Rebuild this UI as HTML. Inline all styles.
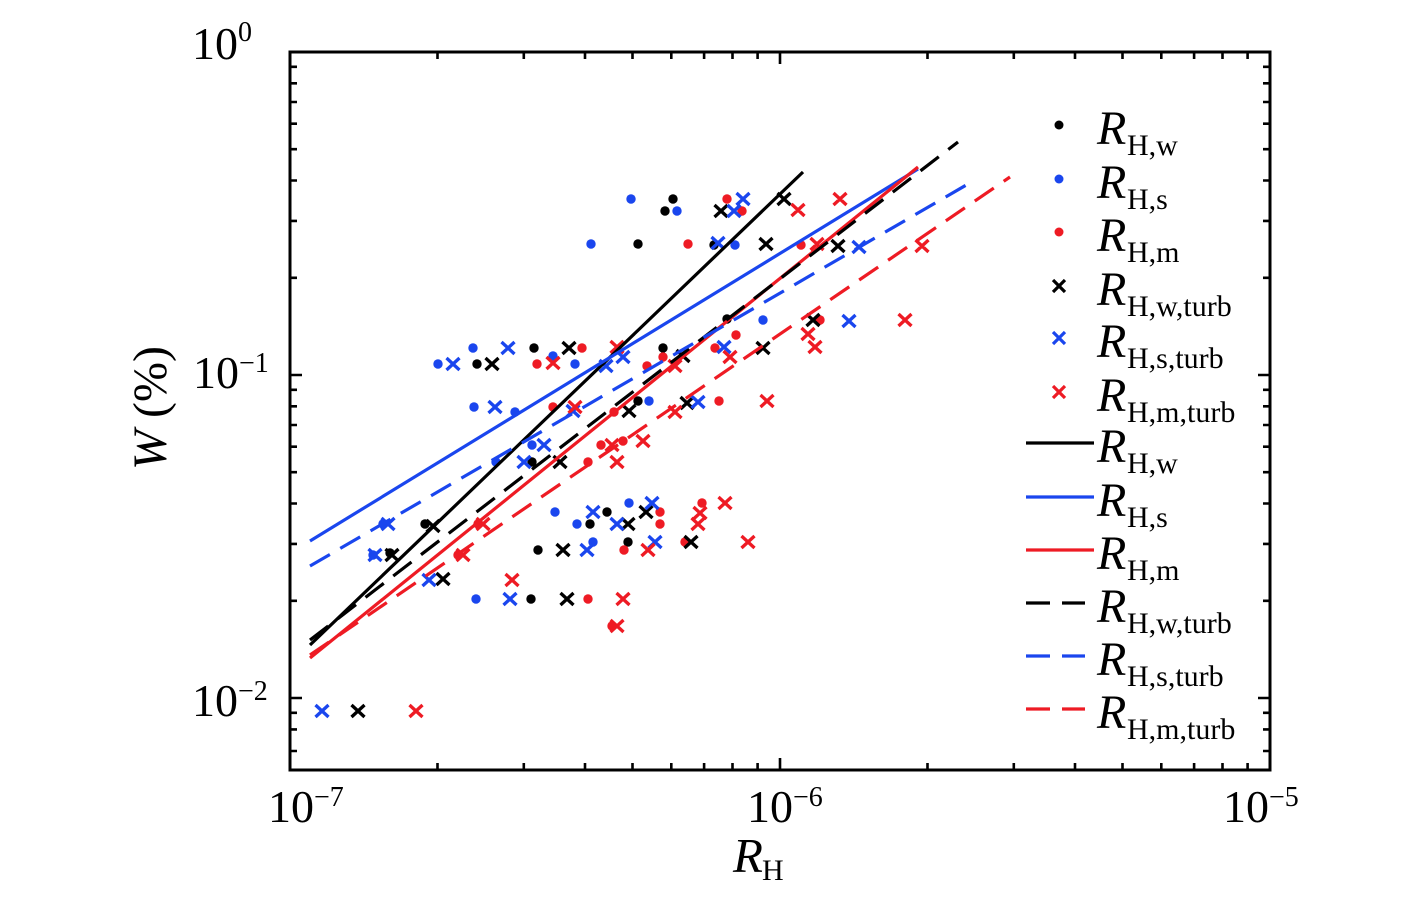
<!DOCTYPE html>
<html><head><meta charset="utf-8"><style>
html,body{margin:0;padding:0;background:#fff;}
svg{display:block;}
text{font-family:"Liberation Serif","DejaVu Serif",serif;fill:#000;}
</style></head><body>
<svg width="1419" height="897" viewBox="0 0 1419 897" xmlns="http://www.w3.org/2000/svg">
<rect x="0" y="0" width="1419" height="897" fill="#fff"/>

<!-- markers -->
<g fill="#000">
<circle cx="673" cy="199" r="4.7"/><circle cx="665" cy="211" r="4.7"/><circle cx="638" cy="244" r="4.7"/><circle cx="714" cy="245" r="4.7"/><circle cx="727" cy="319" r="4.7"/><circle cx="534" cy="348" r="4.7"/><circle cx="663" cy="348" r="4.7"/><circle cx="477" cy="364" r="4.7"/><circle cx="638" cy="401" r="4.7"/><circle cx="532" cy="462" r="4.7"/><circle cx="607" cy="512" r="4.7"/><circle cx="590" cy="524" r="4.7"/><circle cx="538" cy="550" r="4.7"/><circle cx="628" cy="542" r="4.7"/><circle cx="531" cy="599" r="4.7"/><circle cx="425" cy="524" r="4.7"/><circle cx="390" cy="553" r="4.7"/>
</g>
<g fill="#1a46ee">
<circle cx="631" cy="199" r="4.7"/><circle cx="677" cy="211" r="4.7"/><circle cx="591" cy="244" r="4.7"/><circle cx="735" cy="245" r="4.7"/><circle cx="763" cy="320" r="4.7"/><circle cx="473" cy="348" r="4.7"/><circle cx="438" cy="364" r="4.7"/><circle cx="553" cy="356" r="4.7"/><circle cx="575" cy="364" r="4.7"/><circle cx="474" cy="407" r="4.7"/><circle cx="515" cy="412" r="4.7"/><circle cx="649" cy="401" r="4.7"/><circle cx="532" cy="445" r="4.7"/><circle cx="496" cy="462" r="4.7"/><circle cx="555" cy="512" r="4.7"/><circle cx="577" cy="524" r="4.7"/><circle cx="629" cy="503" r="4.7"/><circle cx="593" cy="542" r="4.7"/><circle cx="476" cy="599" r="4.7"/><circle cx="383" cy="524" r="4.7"/><circle cx="373" cy="555" r="4.7"/>
</g>
<g fill="#ee1b24">
<circle cx="727" cy="199" r="4.7"/><circle cx="742" cy="211" r="4.7"/><circle cx="688" cy="244" r="4.7"/><circle cx="801" cy="245" r="4.7"/><circle cx="820" cy="320" r="4.7"/><circle cx="736" cy="335" r="4.7"/><circle cx="582" cy="348" r="4.7"/><circle cx="715" cy="348" r="4.7"/><circle cx="537" cy="364" r="4.7"/><circle cx="663" cy="357" r="4.7"/><circle cx="647" cy="366" r="4.7"/><circle cx="553" cy="407" r="4.7"/><circle cx="614" cy="412" r="4.7"/><circle cx="719" cy="401" r="4.7"/><circle cx="601" cy="445" r="4.7"/><circle cx="623" cy="441" r="4.7"/><circle cx="588" cy="462" r="4.7"/><circle cx="660" cy="512" r="4.7"/><circle cx="660" cy="524" r="4.7"/><circle cx="702" cy="503" r="4.7"/><circle cx="624" cy="550" r="4.7"/><circle cx="685" cy="542" r="4.7"/><circle cx="588" cy="599" r="4.7"/><circle cx="612" cy="626" r="4.7"/><circle cx="478" cy="524" r="4.7"/><circle cx="458" cy="555" r="4.7"/>
</g>
<path fill="none" stroke="#000" stroke-width="3.3" d="M777.5 193l13 12m0-12l-13 12 M714.5 205l13 12m0-12l-13 12 M759.5 238l13 12m0-12l-13 12 M831.5 240l13 12m0-12l-13 12 M806.5 314l13 12m0-12l-13 12 M562.5 342l13 12m0-12l-13 12 M756.5 342l13 12m0-12l-13 12 M485.5 358l13 12m0-12l-13 12 M676.5 350l13 12m0-12l-13 12 M622.5 405l13 12m0-12l-13 12 M680.5 397l13 12m0-12l-13 12 M553.5 456l13 12m0-12l-13 12 M639.5 506l13 12m0-12l-13 12 M621.5 518l13 12m0-12l-13 12 M556.5 544l13 12m0-12l-13 12 M684.5 536l13 12m0-12l-13 12 M560.5 593l13 12m0-12l-13 12 M436.5 573l13 12m0-12l-13 12 M426.5 520l13 12m0-12l-13 12 M385.5 549l13 12m0-12l-13 12 M351.5 705l13 12m0-12l-13 12"/>
<path fill="none" stroke="#1a46ee" stroke-width="3.3" d="M736.5 193l13 12m0-12l-13 12 M727.5 205l13 12m0-12l-13 12 M711.5 237l13 12m0-12l-13 12 M852.5 241l13 12m0-12l-13 12 M842.5 315l13 12m0-12l-13 12 M501.5 342l13 12m0-12l-13 12 M446.5 358l13 12m0-12l-13 12 M616.5 351l13 12m0-12l-13 12 M599.5 360l13 12m0-12l-13 12 M717.5 341l13 12m0-12l-13 12 M488.5 401l13 12m0-12l-13 12 M691.5 396l13 12m0-12l-13 12 M537.5 439l13 12m0-12l-13 12 M517.5 456l13 12m0-12l-13 12 M586.5 506l13 12m0-12l-13 12 M610.5 518l13 12m0-12l-13 12 M645.5 497l13 12m0-12l-13 12 M580.5 544l13 12m0-12l-13 12 M648.5 536l13 12m0-12l-13 12 M503.5 593l13 12m0-12l-13 12 M422.5 574l13 12m0-12l-13 12 M381.5 518l13 12m0-12l-13 12 M368.5 549l13 12m0-12l-13 12 M315.5 705l13 12m0-12l-13 12 M566.5 405l13 12m0-12l-13 12"/>
<path fill="none" stroke="#ee1b24" stroke-width="3.3" d="M833.5 193l13 12m0-12l-13 12 M791.5 204l13 12m0-12l-13 12 M810.5 238l13 12m0-12l-13 12 M915.5 240l13 12m0-12l-13 12 M898.5 314l13 12m0-12l-13 12 M801.5 328l13 12m0-12l-13 12 M808.5 341l13 12m0-12l-13 12 M610.5 341l13 12m0-12l-13 12 M546.5 357l13 12m0-12l-13 12 M723.5 351l13 12m0-12l-13 12 M668.5 360l13 12m0-12l-13 12 M568.5 401l13 12m0-12l-13 12 M668.5 406l13 12m0-12l-13 12 M760.5 395l13 12m0-12l-13 12 M605.5 439l13 12m0-12l-13 12 M636.5 435l13 12m0-12l-13 12 M610.5 456l13 12m0-12l-13 12 M718.5 497l13 12m0-12l-13 12 M693.5 507l13 12m0-12l-13 12 M691.5 518l13 12m0-12l-13 12 M641.5 544l13 12m0-12l-13 12 M741.5 536l13 12m0-12l-13 12 M616.5 593l13 12m0-12l-13 12 M610.5 620l13 12m0-12l-13 12 M505.5 574l13 12m0-12l-13 12 M476.5 518l13 12m0-12l-13 12 M456.5 549l13 12m0-12l-13 12 M409.5 705l13 12m0-12l-13 12"/>

<!-- fit lines -->
<g fill="none" stroke-width="3.2">
<line x1="310" y1="645" x2="803" y2="172" stroke="#000"/>
<line x1="310" y1="541" x2="918" y2="169" stroke="#1a46ee"/>
<line x1="310" y1="658" x2="918" y2="167" stroke="#ee1b24"/>
<line x1="310" y1="640" x2="958" y2="142" stroke="#000" stroke-dasharray="23 12"/>
<line x1="310" y1="566" x2="968" y2="184" stroke="#1a46ee" stroke-dasharray="23 12"/>
<line x1="310" y1="655" x2="1010" y2="177" stroke="#ee1b24" stroke-dasharray="23 12"/>
</g>

<!-- axes frame -->
<rect x="290" y="52" width="980" height="718" fill="none" stroke="#000" stroke-width="3"/>
<!-- ticks -->
<path fill="none" stroke="#000" stroke-width="2.6" d="
M780 770v-12 M780 52v12
M437.5 770v-7 M523.8 770v-7 M585 770v-7 M632.5 770v-7 M671.3 770v-7 M704.1 770v-7 M732.5 770v-7 M757.6 770v-7
M927.5 770v-7 M1013.8 770v-7 M1075 770v-7 M1122.5 770v-7 M1161.3 770v-7 M1194.1 770v-7 M1222.5 770v-7 M1247.6 770v-7
M437.5 52v7 M523.8 52v7 M585 52v7 M632.5 52v7 M671.3 52v7 M704.1 52v7 M732.5 52v7 M757.6 52v7
M927.5 52v7 M1013.8 52v7 M1075 52v7 M1122.5 52v7 M1161.3 52v7 M1194.1 52v7 M1222.5 52v7 M1247.6 52v7
M290 375h12 M290 698h12 M1270 375h-12 M1270 698h-12
M290 277.8h7 M290 220.9h7 M290 180.5h7 M290 149.2h7 M290 123.7h7 M290 102h7 M290 83.3h7 M290 66.8h7
M290 600.8h7 M290 543.9h7 M290 503.5h7 M290 472.2h7 M290 446.7h7 M290 425h7 M290 406.3h7 M290 389.8h7
M290 712.8h7 M290 729.4h7 M290 751h7
M1270 277.8h-7 M1270 220.9h-7 M1270 180.5h-7 M1270 149.2h-7 M1270 123.7h-7 M1270 102h-7 M1270 83.3h-7 M1270 66.8h-7
M1270 600.8h-7 M1270 543.9h-7 M1270 503.5h-7 M1270 472.2h-7 M1270 446.7h-7 M1270 425h-7 M1270 406.3h-7 M1270 389.8h-7
M1270 712.8h-7 M1270 729.4h-7 M1270 751h-7"/>

<!-- tick labels -->
<g font-size="46">
<text x="268" y="822">10<tspan font-size="28" dy="-16">−7</tspan></text>
<text x="747" y="822">10<tspan font-size="28" dy="-16">−6</tspan></text>
<text x="1223" y="822">10<tspan font-size="28" dy="-16">−5</tspan></text>
<text x="192" y="59">10<tspan font-size="28" dy="-18">0</tspan></text>
<text x="193" y="388">10<tspan font-size="28" dy="-16">−1</tspan></text>
<text x="192" y="716">10<tspan font-size="28" dy="-16">−2</tspan></text>
</g>

<!-- axis labels -->
<text x="733" y="872" font-size="49" font-style="italic">R</text>
<text x="762" y="880" font-size="30">H</text>
<text transform="translate(166,408) rotate(-90)" text-anchor="middle" font-size="48"><tspan font-style="italic">W</tspan> (%)</text>

<!-- legend -->
<circle cx="1059" cy="125" r="4.5" fill="#000"/>
<circle cx="1059" cy="179" r="4.5" fill="#1a46ee"/>
<circle cx="1059" cy="232" r="4.5" fill="#ee1b24"/>
<path fill="none" stroke="#000" stroke-width="3.2" d="M1053 280l12 12m0-12l-12 12"/>
<path fill="none" stroke="#1a46ee" stroke-width="3.2" d="M1053 332l12 12m0-12l-12 12"/>
<path fill="none" stroke="#ee1b24" stroke-width="3.2" d="M1053 386l12 12m0-12l-12 12"/>
<g stroke-width="3.2">
<line x1="1026" y1="443" x2="1094" y2="443" stroke="#000"/>
<line x1="1026" y1="497" x2="1094" y2="497" stroke="#1a46ee"/>
<line x1="1026" y1="550" x2="1094" y2="550" stroke="#ee1b24"/>
<path d="M1026 603h24M1062 603h23" stroke="#000"/>
<path d="M1026 656h24M1062 656h23" stroke="#1a46ee"/>
<path d="M1026 709h24M1062 709h23" stroke="#ee1b24"/>
</g>
<g font-size="48" font-style="italic">
<text x="1097" y="144">R</text>
<text x="1097" y="198">R</text>
<text x="1097" y="251">R</text>
<text x="1097" y="305">R</text>
<text x="1097" y="357">R</text>
<text x="1097" y="411">R</text>
<text x="1097" y="462">R</text>
<text x="1097" y="516">R</text>
<text x="1097" y="569">R</text>
<text x="1097" y="622">R</text>
<text x="1097" y="675">R</text>
<text x="1097" y="728">R</text>
</g>
<g font-size="30">
<text x="1127" y="155">H,w</text>
<text x="1127" y="209">H,s</text>
<text x="1127" y="262">H,m</text>
<text x="1127" y="316">H,w,turb</text>
<text x="1127" y="368">H,s,turb</text>
<text x="1127" y="422">H,m,turb</text>
<text x="1127" y="473">H,w</text>
<text x="1127" y="527">H,s</text>
<text x="1127" y="580">H,m</text>
<text x="1127" y="633">H,w,turb</text>
<text x="1127" y="686">H,s,turb</text>
<text x="1127" y="739">H,m,turb</text>
</g>
</svg>
</body></html>
